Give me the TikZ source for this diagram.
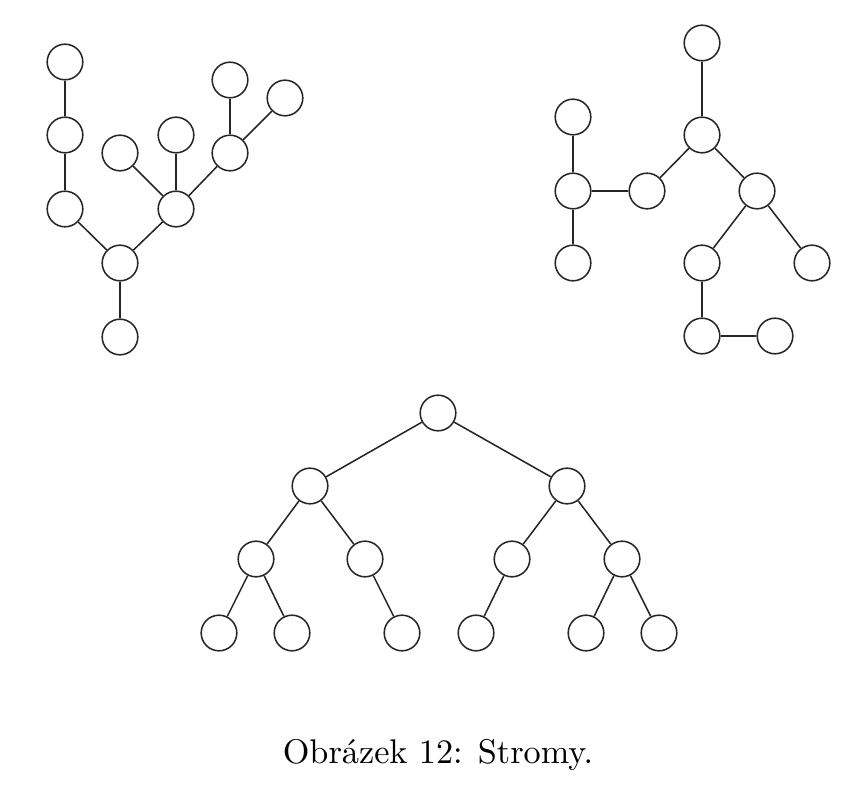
\documentclass[tikz,border=0pt]{standalone}
\usepackage{tikz}
\usetikzlibrary{positioning}

\begin{document}
\begin{tikzpicture}[
  x=0.292pt, y=-0.292pt,
  vertex/.style={circle, draw=black!85, fill=white, line width=0.45pt,
                 minimum size=10.4pt, inner sep=0pt},
  edgeline/.style={draw=black!85, line width=0.45pt}
]
\useasboundingbox (0,0) rectangle (866,800);
% left tree
\foreach \n/\xx/\yy in {1/65/62, 2/65/135, 3/65/209, 4/120/263, 5/120/337,
  6/176/209, 7/120/153, 8/176/135, 9/230/153, 10/230/80, 11/285/98} {
  \node[vertex] (l\n) at (\xx,\yy) {};
}
\foreach \a/\b in {1/2,2/3,3/4,4/5,4/6,6/7,6/8,6/9,9/10,9/11} {
  \draw[edgeline] (l\a) -- (l\b);
}
% right tree
\foreach \n/\xx/\yy in {1/702/43, 2/702/135, 3/647/191, 4/573/117, 5/573/191,
  6/573/263, 7/757/191, 8/702/263, 9/812/263, 10/702/336, 11/775/336} {
  \node[vertex] (r\n) at (\xx,\yy) {};
}
\foreach \a/\b in {1/2,2/3,3/5,5/4,5/6,2/7,7/8,7/9,8/10,10/11} {
  \draw[edgeline] (r\a) -- (r\b);
}
% binary tree
\foreach \n/\xx/\yy in {1/438/413, 2/310/486, 3/567/486, 4/256/559, 5/365/559,
  6/512/559, 7/622/559, 8/219/633, 9/292/633, 10/402/633, 11/476/633,
  12/586/633, 13/659/633} {
  \node[vertex] (b\n) at (\xx,\yy) {};
}
\foreach \a/\b in {1/2,1/3,2/4,2/5,3/6,3/7,4/8,4/9,5/10,6/11,7/12,7/13} {
  \draw[edgeline] (b\a) -- (b\b);
}
% caption
\node[anchor=base, inner sep=0pt] (caption) at (438,763) {Obrázek 12: Stromy.};
\end{tikzpicture}
\end{document}
